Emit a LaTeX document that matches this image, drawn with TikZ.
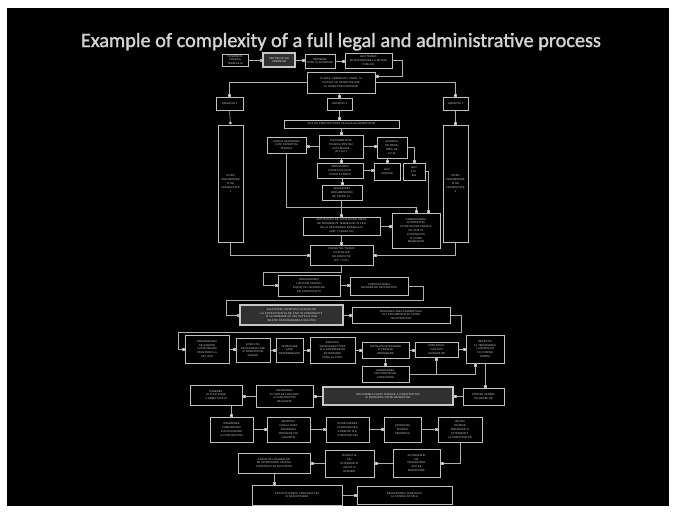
\documentclass[tikz,border=0pt]{standalone}
\usepackage{fontspec}
\usetikzlibrary{arrows.meta}
\newfontfamily\titlefont[FakeBold=1.4]{Carlito}
\newfontfamily\boxfont{Liberation Sans}
\definecolor{slide}{HTML}{000000}
\definecolor{edge}{HTML}{C0C0C0}
\definecolor{linec}{HTML}{B0B0B0}
\definecolor{boxtext}{HTML}{C4C4C4}
\definecolor{hlfill}{HTML}{303030}
\definecolor{titlec}{HTML}{D4D4D4}

\tikzset{
  box/.style={draw=edge, line width=0.55pt, fill=black, inner sep=0pt,
    align=center, text=boxtext, font=\boxfont\fontsize{2.7}{3.8}\selectfont},
  hl/.style={draw=edge!90!white, line width=1.1pt, fill=hlfill, text=white!85!black},
  con/.style={draw=linec, line width=0.55pt,
    -{Square[length=2.2pt,width=2.2pt,fill=white]}, shorten >=0.6pt},
}

% \flowbox[style]{name}{x1}{y1}{x2}{y2}{text}: box given by its corners
\newcommand{\flowbox}[7][]{%
  \pgfmathsetmacro\fbw{#5-#3}\pgfmathsetmacro\fbh{#6-#4}\pgfmathsetmacro\fbt{#5-#3-2}%
  \node[box,#1,minimum width=\fbw pt,minimum height=\fbh pt,text width=\fbt pt]
    (#2) at ({(#3+#5)/2},{(#4+#6)/2}) {#7};}

\begin{document}
\begin{tikzpicture}[x=1pt,y=-1pt]
\path[use as bounding box, fill=white] (0,0) rectangle (677,514);
\fill[slide] (7,8) rectangle (669,506);

\node[text=titlec, inner sep=0pt, anchor=base] (title) at (341,47)
  {\resizebox{520pt}{!}{\titlefont Example of complexity of a full legal and administrative process}};

% --- upper part: preparation and approvals
\flowbox{A}{222}{54}{248}{66}{PUNERE IN\\POSESIA\\TERENULUI}
\flowbox[hl]{B}{263}{53}{295}{67}{CERTIFICAT DE\\URBANISM}
\flowbox{C}{305}{54}{335}{68}{OBTINERE\\AVIZE SI ACORDURI}
\flowbox{D}{345}{53}{392}{68}{AVIZ TEHNIC\\DE RACORDARE LA RETELE\\PUBLICE}
\flowbox{E}{307}{72}{375}{93}{PLANUL URBANISTIC ZONAL SI\\STUDIUL DE OPORTUNITATE\\AL INVESTITIEI PROPUSE}
\flowbox{F1}{216}{97}{243}{110}{VARIANTA 1}
\flowbox{F2}{327}{98}{352}{110}{VARIANTA 2}
\flowbox{F3}{443}{97}{468}{110}{VARIANTA 3}
\flowbox{T1}{218}{125}{243}{242}{STUDII\\PRELIMINARE\\SI DE\\FEZABILITATE\\1}
\flowbox{T3}{443}{125}{468}{242}{STUDII\\PRELIMINARE\\SI DE\\FEZABILITATE\\3}
\flowbox{G}{284}{120}{399}{128}{AVIZ DE PRINCIPIU EMIS PE BAZA DOCUMENTATIEI}
\flowbox{H1}{267}{137}{306}{153}{STUDIU GEOTEHNIC\\SI DE EXPERTIZA\\TEHNICA}
\flowbox{H2}{319}{135}{363}{158}{DOCUMENTATIE\\TEHNICA PENTRU\\AUTORIZARE\\(D.T.A.C.)}
\flowbox{H3}{377}{137}{407}{158}{ACORDUL\\DE MEDIU\\EMIS DE\\A.P.M.}
\flowbox{I2}{317}{163}{363}{178}{VERIFICAREA\\PROIECTULUI DE\\CATRE EXPERTI}
\flowbox{I3a}{374}{163}{400}{180}{AVIZ\\SANITAR}
\flowbox{I3b}{403}{163}{425}{180}{AVIZ\\P.S.I.\\ISU}
\flowbox{J2}{322}{185}{362}{200}{APROBAREA\\DOCUMENTATIEI\\DE CATRE C.L.}
\flowbox{K2}{303}{217}{380}{235}{AUTORIZATIA DE CONSTRUIRE EMISA\\DE PRIMARIE IN TERMEN DE 30 ZILE\\DE LA DEPUNEREA DOSARULUI\\(ART. 7 LEGEA 50)}
\flowbox{K3}{392}{213}{440}{248}{COMUNICAREA\\AUTORIZATIEI\\CATRE INSPECTORATUL\\DE STAT IN\\CONSTRUCTII\\SI CATRE\\BENEFICIAR}
\flowbox{M}{310}{245}{373}{265}{PROIECTUL TEHNIC\\SI DETALIILE\\DE EXECUTIE\\(P.T. + D.E.)}

% --- middle part: contracting and execution
\flowbox{N1}{278}{275}{340}{296}{ORGANIZAREA\\LICITATIEI PENTRU\\EXECUTIA LUCRARILOR\\DE CONSTRUCTII}
\flowbox{N2}{350}{277}{408}{295}{CONTRACTAREA\\LUCRARILOR DE EXECUTIE}
\flowbox[hl]{P1}{240}{305}{343}{325}{ANUNTAREA INCEPERII LUCRARILOR\\LA INSPECTORATUL DE STAT IN CONSTRUCTII\\SI LA PRIMARIE CU CEL PUTIN 10 ZILE\\INAINTE DE DEMARAREA EXECUTIEI}
\flowbox{P2}{352}{307}{450}{323}{PREDAREA AMPLASAMENTULUI\\SI A DOCUMENTATIEI CATRE\\CONSTRUCTOR}
\flowbox{Q1}{185}{335}{229}{363}{ORGANIZAREA\\DE SANTIER\\SI RACORDURI\\PROVIZORII LA\\UTILITATI}
\flowbox{Q2}{236}{338}{270}{362}{EXECUTIA\\INFRASTRUCTURII\\SI FUNDATIILOR\\SUBSOL}
\flowbox{Q3}{276}{338}{303}{362}{VERIFICARE\\FAZE\\DETERMINANTE}
\flowbox{Q4}{310}{337}{355}{363}{EXECUTIA\\SUPRASTRUCTURII\\SI A INCHIDERILOR\\EXTERIOARE\\PANA LA COTA}
\flowbox{Q5}{362}{342}{409}{358}{INSTALATII INTERIOARE\\SI FINISAJE\\INTERIOARE}
\flowbox{Q6}{415}{342}{458}{357}{CONTROLUL\\CALITATII\\LUCRARILOR}
\flowbox{Q7}{466}{335}{504}{363}{RECEPTIA\\LA TERMINAREA\\LUCRARILOR\\CU COMISIE\\NUMITA}
\flowbox{R5}{362}{366}{409}{382}{REMEDIEREA\\DEFICIENTELOR\\CONSTATATE}

% --- lower part: reception and operation
\flowbox{S4}{463}{388}{504}{405}{PROCES-VERBAL\\DE RECEPTIE}
\flowbox[hl]{S3}{323}{387}{453}{405}{INTOCMIREA CARTII TEHNICE A CONSTRUCTIEI\\SI PREDAREA CATRE BENEFICIAR}
\flowbox{S2}{256}{385}{313}{407}{INSCRIEREA\\IN CARTEA FUNCIARA\\A CONSTRUCTIEI\\REALIZATE}
\flowbox{S1}{190}{385}{242}{405}{PUNEREA\\IN FUNCTIUNE\\A OBIECTIVULUI}
\flowbox{U1}{210}{417}{253}{442}{URMARIREA\\COMPORTARII\\IN EXPLOATARE\\A CONSTRUCTIEI}
\flowbox{U2}{267}{417}{310}{442}{RECEPTIA\\FINALA DUPA\\EXPIRAREA\\PERIOADEI DE\\GARANTIE}
\flowbox{U3}{326}{417}{369}{442}{INTRETINEREA\\SI REPARATIILE\\CURENTE ALE\\CONSTRUCTIEI}
\flowbox{U4}{384}{417}{421}{442}{EXPERTIZA\\TEHNICA\\PERIODICA}
\flowbox{U5}{438}{417}{482}{442}{REVIZII\\TEHNICE\\PERIODICE SI\\INTERVENTII\\LA CONSTRUCTIE}
\flowbox{V3}{393}{449}{440}{477}{AUTORIZATIE\\DE\\DESFIINTARE\\SAU DE\\MODIFICARE}
\flowbox{V2}{325}{450}{374}{477}{PROIECTUL\\DE\\INTERVENTIE\\AVIZAT SI\\APROBAT}
\flowbox{V1}{238}{453}{310}{473}{EXECUTIA LUCRARILOR\\DE INTERVENTIE ASUPRA\\CONSTRUCTIEI EXISTENTE}
\flowbox{W1}{252}{485}{342}{505}{POSTUTILIZAREA CONSTRUCTIEI\\SI DESFIINTAREA}
\flowbox{W2}{357}{486}{452}{504}{READUCEREA TERENULUI\\LA STAREA INITIALA}

% bend points of the long connectors
\coordinate (b1) at (416,207);
\coordinate (b2) at (263,272);
\coordinate (b3) at (423,300);
\coordinate (b4) at (226,300);
\coordinate (b5) at (461,332);
\coordinate (b6) at (178,332);
\coordinate (b7) at (402,76);

% --- connectors
\draw[con] (A.east) -- (A.east -| B.west);
\draw[con] (B.east) -- (B.east -| C.west);
\draw[con] (C.east) -- (C.east -| D.west);
\draw[con] (D.east) -| (b7) -- (b7 -| E.east);
\draw[con] (E.west) -| (F1.north);
\draw[con] (E.east) -| (F3.north);
\draw[con] (F2.north |- E.south) -- (F2.north);
\draw[con] (F1.south) -- (T1.north);
\draw[con] (F3.south) -- (T3.north);
\draw[con] (F2.south) -- (F2.south |- G.north);
\draw[con] (H2.north |- G.south) -- (H2.north);
\draw[con] (H2.west) -- (H2.west -| H1.east);
\draw[con] (H2.east) -- (H2.east -| H3.west);
\draw[con] (H2.south) -- (H2.south |- I2.north);
\draw[con] (I3a.north |- H3.south) -- (I3a.north);
\draw[con] (H3.east) -| (I3b.north);
\draw[con] (I2.east) -- (I2.east -| I3a.west);
\draw[con] (J2.north |- I2.south) -- (J2.north);
\draw[con] (K2.north |- J2.south) -- (K2.north);
\draw[con] (H1.south) |- (b1) -- (b1 |- K3.north);
\draw[con] (I3b.east) -| ([xshift=-12pt]K3.north east);
\draw[con] (K2.east) -- (K2.east -| K3.west);
\draw[con] (K2.south) -- (K2.south |- M.north);
\draw[con] (T1.south) |- (M.west);
\draw[con] (T3.south) |- (M.east);
\draw[con] (M.south) |- (b2) |- (N1.west);
\draw[con] (N1.east) -- (N1.east -| N2.west);
\draw[con] (N2.east) -| (b3) -- (b4) |- (P1.west);
\draw[con] (P1.east) -- (P1.east -| P2.west);
\draw[con] (P2.east) -| (b5) -- (b6) |- (Q1.west);
\draw[con] (Q1.east) -- (Q1.east -| Q2.west);
\draw[con] (Q2.east) -- (Q2.east -| Q3.west);
\draw[con] (Q3.east) -- (Q3.east -| Q4.west);
\draw[con] (Q4.east) -- (Q4.east -| Q5.west);
\draw[con] (Q5.east) -- (Q5.east -| Q6.west);
\draw[con] (Q6.east) -- (Q6.east -| Q7.west);
\draw[con] (Q5.south) -- (Q5.south |- R5.north);
\draw[con] (R5.east) -| (Q6.south);
\draw[con] (R5.east) -| ([xshift=-10pt]Q7.south);
\draw[con] (Q7.south) -- (Q7.south |- S4.north);
\draw[con] (S4.west) -- (S4.west -| S3.east);
\draw[con] (S3.west) -- (S3.west -| S2.east);
\draw[con] (S2.west) -- (S2.west -| S1.east);
\draw[con] (U1.north |- S1.south) -- (U1.north);
\draw[con] (U1.east) -- (U1.east -| U2.west);
\draw[con] (U2.east) -- (U2.east -| U3.west);
\draw[con] (U3.east) -- (U3.east -| U4.west);
\draw[con] (U4.east) -- (U4.east -| U5.west);
\draw[con] (U5.south) |- (V3.east);
\draw[con] (V3.west) -- (V3.west -| V2.east);
\draw[con] (V2.west) -- (V2.west -| V1.east);
\draw[con] (V1.south) -- (V1.south |- W1.north);
\draw[con] (W1.east) -- (W1.east -| W2.west);
\end{tikzpicture}
\end{document}
